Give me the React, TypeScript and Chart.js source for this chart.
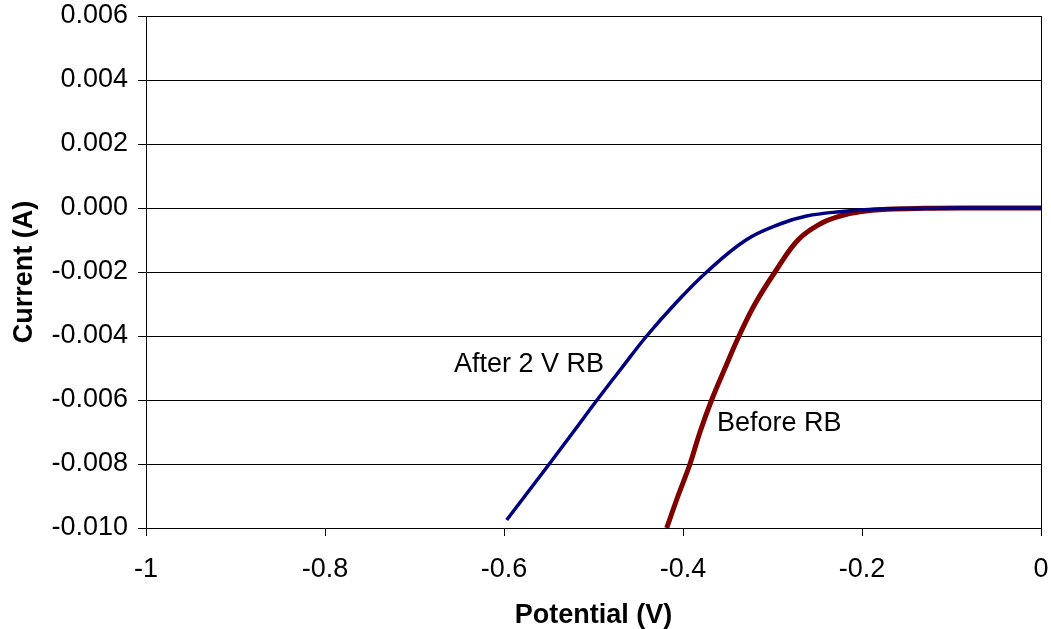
import React, { useEffect, useRef } from "react";
import { Chart, registerables } from "chart.js";

Chart.register(...registerables);

// Cathodic sweep, potential (V) vs current (A)
const afterPotential = [
  -0.597, -0.5766, -0.5494, -0.5226, -0.496, -0.4685, -0.4406, -0.409, -0.3735,
  -0.3296, -0.2916, -0.2618, -0.2246, -0.187, -0.15, -0.1, -0.05, 0,
];
const afterCurrent = [
  -0.00975, -0.009, -0.008, -0.007, -0.006, -0.005, -0.004, -0.003, -0.002,
  -0.001, -0.0005, -0.00025, -0.000115, -0.00004, -0.000012, -0.000003, 0, 0,
];

const beforePotential = [
  -0.4182, -0.4056, -0.3922, -0.381, -0.368, -0.353, -0.3374, -0.3196, -0.2972,
  -0.2715, -0.2469, -0.2246, -0.2022, -0.172, -0.13, -0.08, 0,
];
const beforeCurrent = [
  -0.01, -0.009, -0.008, -0.007, -0.006, -0.005, -0.004, -0.003, -0.002,
  -0.001, -0.0005, -0.00025, -0.000115, -0.00004, -0.00001, 0, 0,
];

// In-plot series labels, anchored in data coordinates
const seriesLabels = [
  { text: "After 2 V RB", x: -0.656, y: -0.0049 },
  { text: "Before RB", x: -0.362, y: -0.00675 },
];

const FONT = "'Liberation Sans', Arial, sans-serif";

const toPoints = (xs: number[], ys: number[]) =>
  xs.map((x, i) => ({ x, y: ys[i] }));

const labelPlugin = {
  id: "seriesLabels",
  afterDatasetsDraw(chart: any) {
    const { ctx, scales } = chart;
    ctx.save();
    ctx.font = `27px ${FONT}`;
    ctx.fillStyle = "#000";
    ctx.textAlign = "left";
    ctx.textBaseline = "middle";
    for (const l of seriesLabels) {
      ctx.fillText(l.text, scales.x.getPixelForValue(l.x), scales.y.getPixelForValue(l.y));
    }
    ctx.restore();
  },
};

const frameRightPlugin = {
  id: "frameRight",
  beforeDatasetsDraw(chart: any) {
    const { ctx, chartArea } = chart;
    ctx.save();
    ctx.strokeStyle = "#000";
    ctx.lineWidth = 1;
    ctx.beginPath();
    ctx.moveTo(chartArea.right + 0.5, chartArea.top);
    ctx.lineTo(chartArea.right + 0.5, chartArea.bottom);
    ctx.stroke();
    ctx.restore();
  },
};

export default function App() {
  const canvasRef = useRef<HTMLCanvasElement | null>(null);

  useEffect(() => {
    if (!canvasRef.current) return;
    Chart.defaults.font.family = FONT;
    Chart.defaults.color = "#000";
    const chart = new Chart(canvasRef.current, {
      type: "line",
      data: {
        datasets: [
          {
            label: "After 2 V RB",
            data: toPoints(afterPotential, afterCurrent),
            borderColor: "#000080",
            borderWidth: 3.5,
            pointRadius: 0,
            fill: false,
            tension: 0.4,
          },
          {
            label: "Before RB",
            data: toPoints(beforePotential, beforeCurrent),
            borderColor: "#800000",
            borderWidth: 5,
            pointRadius: 0,
            fill: false,
            tension: 0.4,
          },
        ],
      },
      options: {
        animation: false,
        responsive: true,
        maintainAspectRatio: false,
        layout: { padding: { top: 16, right: 10, left: 0, bottom: 0 } },
        plugins: {
          legend: { display: false },
          tooltip: { enabled: false },
        },
        scales: {
          x: {
            type: "linear",
            min: -1,
            max: 0,
            afterFit: (s: any) => {
              s.height = 101;
              s.paddingLeft = 0;
              s.paddingRight = 0;
            },
            ticks: {
              stepSize: 0.2,
              font: { size: 27 },
              padding: 17,
              maxRotation: 0,
              callback: (v: any) => String(Number(Number(v).toFixed(1))),
            },
            grid: {
              drawOnChartArea: false,
              drawTicks: true,
              tickLength: 8,
              color: "#000",
            },
            border: { display: true, color: "#000", width: 1 },
            title: {
              display: true,
              text: "Potential (V)",
              font: { size: 27, weight: "bold", lineHeight: 1 },
              padding: { top: 0, bottom: 0 },
            },
          },
          y: {
            type: "linear",
            min: -0.01,
            max: 0.006,
            afterFit: (s: any) => {
              s.width = 146;
              s.paddingTop = 0;
              s.paddingBottom = 0;
            },
            ticks: {
              stepSize: 0.002,
              font: { size: 27 },
              padding: 10,
              callback: (v: any) => {
                const n = Number(v);
                return Math.abs(n) < 1e-9 ? "0.000" : n.toFixed(3);
              },
            },
            grid: {
              drawOnChartArea: true,
              drawTicks: true,
              tickLength: 8,
              color: "#000",
              lineWidth: 1,
            },
            border: { display: true, color: "#000", width: 1 },
            title: {
              display: true,
              text: "Current (A)",
              font: { size: 27, weight: "bold" },
              padding: { top: 8, bottom: 0 },
            },
          },
        },
      },
      plugins: [frameRightPlugin, labelPlugin],
    } as any);
    return () => chart.destroy();
  }, []);

  return (
    <div
      style={{
        position: "fixed",
        left: 0,
        top: 0,
        width: 1051,
        height: 629,
        background: "#fff",
      }}
    >
      <canvas ref={canvasRef} />
    </div>
  );
}
